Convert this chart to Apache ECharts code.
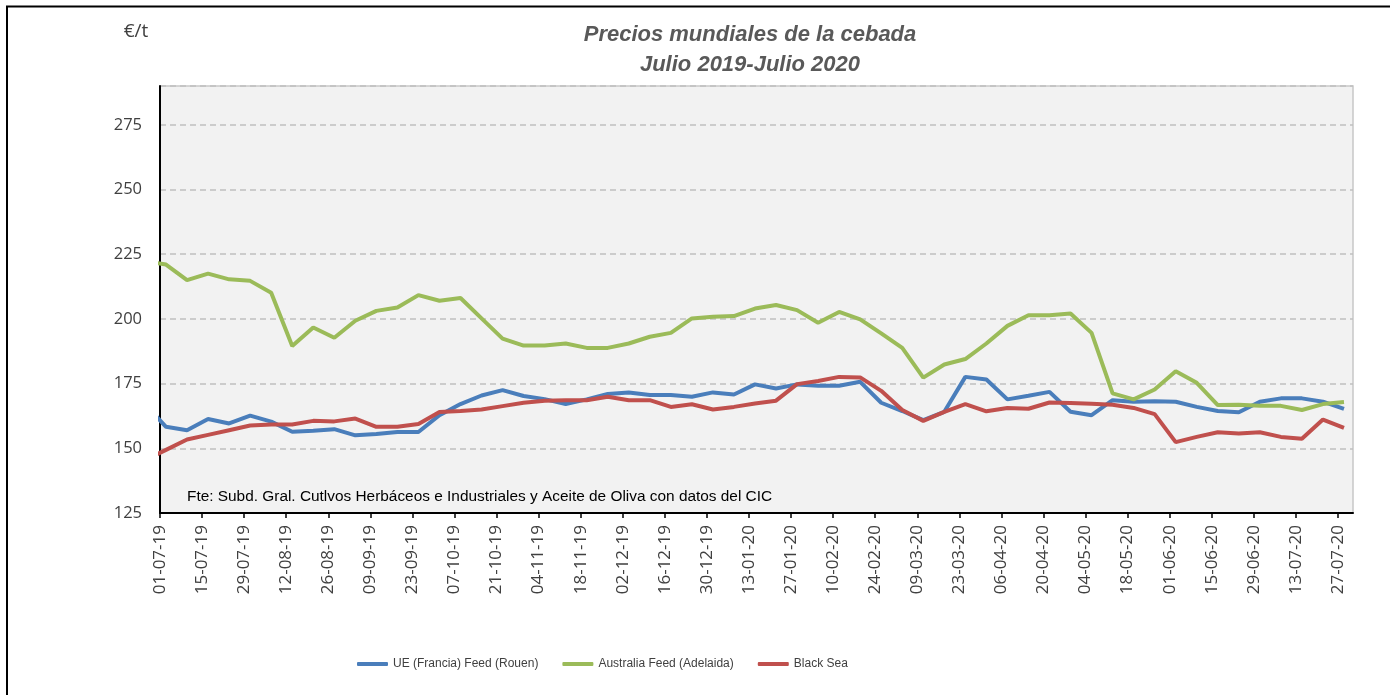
<!DOCTYPE html>
<html>
<head>
<meta charset="utf-8">
<script src="https://cdn.jsdelivr.net/npm/echarts@6/dist/echarts.min.js"></script>
<style>
  html, body { margin: 0; padding: 0; background: #fff; }
  #chart { width: 1390px; height: 695px; }
</style>
</head>
<body>
<div id="chart"></div>
<script>
// fechas de las cotizaciones (semanal, miércoles); la primera queda recortada por el eje
const pointDates = [
  '26-06-19', '03-07-19', '10-07-19', '17-07-19', '24-07-19', '31-07-19', '07-08-19', '14-08-19', '21-08-19',
  '28-08-19', '04-09-19', '11-09-19', '18-09-19', '25-09-19', '02-10-19', '09-10-19', '16-10-19', '23-10-19',
  '30-10-19', '06-11-19', '13-11-19', '20-11-19', '27-11-19', '04-12-19', '11-12-19', '18-12-19', '25-12-19',
  '01-01-20', '08-01-20', '15-01-20', '22-01-20', '29-01-20', '05-02-20', '12-02-20', '19-02-20', '26-02-20',
  '04-03-20', '11-03-20', '18-03-20', '25-03-20', '01-04-20', '08-04-20', '15-04-20', '22-04-20', '29-04-20',
  '06-05-20', '13-05-20', '20-05-20', '27-05-20', '03-06-20', '10-06-20', '17-06-20', '24-06-20', '01-07-20',
  '08-07-20', '15-07-20', '22-07-20', '29-07-20'
];

const ueFrancia = [
  167.0, 158.3, 157.0, 161.3, 159.6, 162.6, 160.3, 156.4, 156.8, 157.4, 155.0, 155.5, 156.3, 156.3, 162.8,
  167.1, 170.4, 172.5, 170.2, 169.0, 167.1, 168.9, 171.0, 171.6, 170.6, 170.6, 169.9, 171.6, 170.8, 174.7,
  173.1, 174.7, 174.2, 174.2, 175.7, 167.6, 164.4, 160.9, 164.1, 177.6, 176.6, 168.9, 170.3, 171.8, 164.1,
  162.8, 168.6, 168.0, 168.2, 168.0, 166.0, 164.4, 163.9, 168.0, 169.3, 169.3, 168.0, 165.2
];

const australia = [
  222.4, 221.0, 215.0, 217.5, 215.3, 214.7, 210.1, 189.5, 196.7, 192.7, 199.3, 203.1, 204.4, 209.2, 207.0,
  208.1, 200.2, 192.4, 189.7, 189.7, 190.5, 188.8, 188.8, 190.5, 193.1, 194.6, 200.2, 200.8, 201.1, 204.0,
  205.4, 203.4, 198.5, 202.7, 199.8, 194.4, 188.8, 177.3, 182.4, 184.5, 190.5, 197.3, 201.4, 201.4, 202.1,
  194.6, 171.2, 168.9, 172.7, 179.8, 175.3, 166.7, 166.8, 166.4, 166.4, 164.8, 167.1, 167.9
];

const blackSea = [
  145.5, 149.4, 153.4, 155.2, 157.0, 158.8, 159.2, 159.2, 160.6, 160.4, 161.5, 158.3, 158.3, 159.4, 164.0,
  164.4, 165.0, 166.3, 167.6, 168.4, 168.6, 168.6, 169.9, 168.6, 168.6, 166.0, 167.0, 165.0, 166.0, 167.3,
  168.4, 174.8, 176.0, 177.6, 177.4, 172.2, 164.8, 160.6, 164.1, 167.1, 164.3, 165.6, 165.3, 167.7, 167.5,
  167.2, 166.8, 165.6, 163.2, 152.4, 154.4, 156.2, 155.7, 156.2, 154.4, 153.7, 161.1, 157.9
];

const tickLabels = [
  '01-07-19', '15-07-19', '29-07-19', '12-08-19', '26-08-19', '09-09-19', '23-09-19', '07-10-19',
  '21-10-19', '04-11-19', '18-11-19', '02-12-19', '16-12-19', '30-12-19', '13-01-20', '27-01-20',
  '10-02-20', '24-02-20', '09-03-20', '23-03-20', '06-04-20', '20-04-20', '04-05-20', '18-05-20',
  '01-06-20', '15-06-20', '29-06-20', '13-07-20', '27-07-20'
];
const yTicks = [125, 150, 175, 200, 225, 250, 275];
const axisEndDate = '01-08-20';

// dd-mm-yy -> días desde el 01-07-19
const toDay = (s) => {
  const [d, m, y] = s.split('-').map(Number);
  return (Date.UTC(2000 + y, m - 1, d) - Date.UTC(2019, 6, 1)) / 86400000;
};
const pointDays = pointDates.map(toDay);
const tickDays = tickLabels.map(toDay);
const pairs = (vals) => vals.map((v, k) => [pointDays[k], v]);

const chart = echarts.init(document.getElementById('chart'));
const axisFont = { fontFamily: 'Open Sans', fontSize: 17, color: '#404040' };

chart.setOption({
  animation: false,
  backgroundColor: '#fff',
  graphic: [
    { type: 'rect', shape: { x: 7, y: 6.5, width: 1500, height: 800 },
      style: { fill: 'none', stroke: '#000', lineWidth: 2 }, silent: true },
    { type: 'text', x: 750, y: 35,
      style: { text: 'Precios mundiales de la cebada', fill: '#595959', align: 'center', verticalAlign: 'middle',
        font: 'italic bold 22px "Liberation Sans"' } },
    { type: 'text', x: 750, y: 65,
      style: { text: 'Julio 2019-Julio 2020', fill: '#595959', align: 'center', verticalAlign: 'middle',
        font: 'italic bold 22px "Liberation Sans"' } },
    { type: 'text', x: 136, y: 32,
      style: { text: '€/t', fill: '#404040', align: 'center', verticalAlign: 'middle',
        font: '19px "Open Sans"' } },
    { type: 'text', x: 187, y: 497, z: 10,
      style: { text: 'Fte: Subd. Gral. Cutlvos Herbáceos e Industriales y Aceite de Oliva con datos del CIC',
        fill: '#000', align: 'left', verticalAlign: 'middle', font: '15.4px "Liberation Sans"' } }
  ],
  legend: {
    data: ['UE (Francia) Feed (Rouen)', 'Australia Feed (Adelaida)', 'Black Sea'],
    left: 357,
    top: 658,
    padding: 0,
    icon: 'roundRect',
    itemWidth: 31,
    itemHeight: 4,
    itemGap: 24,
    textStyle: { fontFamily: 'Liberation Sans', fontSize: 12, color: '#404040' }
  },
  grid: {
    left: 160, top: 86, width: 1193, height: 427,
    show: true, backgroundColor: '#f2f2f2', borderColor: '#c8c8c8', borderWidth: 1.5
  },
  xAxis: {
    type: 'value',
    min: 0,
    max: toDay(axisEndDate),
    splitLine: { show: false },
    axisLine: { show: true, lineStyle: { color: '#000', width: 2 } },
    axisTick: { show: true, customValues: tickDays, length: 5, lineStyle: { color: '#000', width: 1.5 } },
    axisLabel: {
      customValues: tickDays,
      rotate: 90,
      margin: 12,
      formatter: (v) => tickLabels[tickDays.indexOf(v)] || '',
      ...axisFont
    }
  },
  yAxis: {
    type: 'value',
    min: 125,
    max: 290,
    interval: 25,
    axisLine: { show: true, lineStyle: { color: '#000', width: 2 } },
    axisTick: { show: false },
    axisLabel: { customValues: yTicks, margin: 18, ...axisFont, fontSize: 16.5 },
    splitLine: { show: true, lineStyle: { color: '#c0c0c0', width: 1.5, type: [6, 4] } }
  },
  series: [
    { name: 'UE (Francia) Feed (Rouen)', type: 'line', data: pairs(ueFrancia), symbol: 'none',
      lineStyle: { width: 4, color: '#4a7ebb' }, itemStyle: { color: '#4a7ebb' } },
    { name: 'Australia Feed (Adelaida)', type: 'line', data: pairs(australia), symbol: 'none',
      lineStyle: { width: 4, color: '#9bbb59' }, itemStyle: { color: '#9bbb59' } },
    { name: 'Black Sea', type: 'line', data: pairs(blackSea), symbol: 'none',
      lineStyle: { width: 4, color: '#c0504d' }, itemStyle: { color: '#c0504d' } }
  ]
});
</script>
</body>
</html>
